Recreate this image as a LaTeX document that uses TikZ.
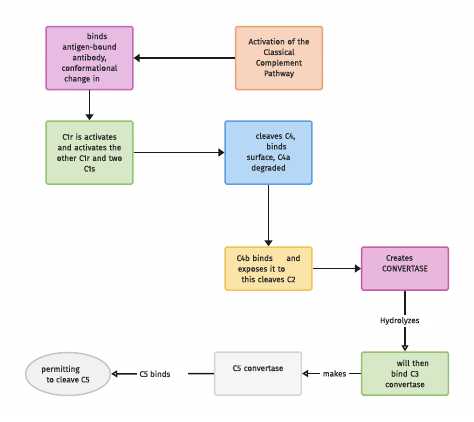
\documentclass[tikz,border=0pt]{standalone}
\usepackage{fontspec}
\setmainfont{Fira Sans}[FakeBold=0.6]
\newfontfamily\medfont{Fira Sans}[FakeBold=0.6]
\usetikzlibrary{arrows.meta,shapes.geometric}
\definecolor{pinkF}{HTML}{E8BCE2}\definecolor{pinkD}{HTML}{C866B4}
\definecolor{oraF}{HTML}{F8D4BE}\definecolor{oraD}{HTML}{E8A070}
\definecolor{grnF}{HTML}{D6E8C6}\definecolor{grnD}{HTML}{92C372}
\definecolor{bluF}{HTML}{B6D8F6}\definecolor{bluD}{HTML}{5C9FE2}
\definecolor{yelF}{HTML}{FBE4A8}\definecolor{yelD}{HTML}{F0C455}
\definecolor{pk2F}{HTML}{E9B6DD}\definecolor{pk2D}{HTML}{C95AA2}
\definecolor{gryF}{HTML}{F5F5F5}\definecolor{gryD}{HTML}{D4D4D4}
\definecolor{ellF}{HTML}{F1F1F1}\definecolor{ellD}{HTML}{C6C6C6}
\definecolor{lineC}{HTML}{1A1A1A}
\definecolor{txtC}{HTML}{2A2A2A}
\tikzset{
  box/.style={draw,line width=1.5pt,rounded corners=1.5pt,minimum width=85pt,minimum height=63pt,
    text width=80pt,align=center,font=\medfont\fontsize{8}{10.6}\selectfont,text=txtC},
  sbox/.style={box,minimum height=43pt},
  solid arrow/.style={draw=lineC,line width=1.4pt,-{Triangle[length=6pt,width=8pt]}},
  open arrow/.style={draw=lineC,line width=1.4pt,-{Triangle[open,length=6pt,width=7pt,fill=white]}},
  elabel/.style={fill=white,inner sep=2.5pt,font=\medfont\fontsize{8}{10}\selectfont,text=txtC},
}
\begin{document}
\begin{tikzpicture}[x=1pt,y=-1pt]
\useasboundingbox (0,0) rectangle (474,421);
\fill[white] (0,0) rectangle (474,421);
\foreach \i in {0,...,47}{\foreach \j in {0,...,42}{\fill[black!12] (\i*10+4,\j*10+4) circle (0.45pt);}}
\node[box,fill=pinkF,draw=pinkD] (a) at (89.5,58) {\phantom{C1q} binds\\antigen-bound\\antibody,\\conformational\\change in \phantom{C1q}};
\node[box,fill=oraF,draw=oraD] (b) at (279,58) {Activation of the\\Classical\\Complement\\Pathway};
\node[box,fill=grnF,draw=grnD] (c) at (89.5,152.5) {C1r is activates\\and activates the\\other C1r and two\\C1s};
\node[box,fill=bluF,draw=bluD] (d) at (268.5,152.5) {\phantom{C1s} cleaves C4,\\\phantom{C4b} binds\\surface, C4a\\degraded};
\node[sbox,fill=yelF,draw=yelD] (e) at (268.5,268.5) {C4b binds \phantom{C2} and\\exposes it to \phantom{C1s}\\this cleaves C2};
\node[sbox,fill=pk2F,draw=pk2D] (f) at (405,268.5) {Creates \phantom{C3}\\CONVERTASE\\\phantom{C4b2a}};
\node[sbox,fill=grnF,draw=grnD] (g) at (405,373.5) {\phantom{C3b} will then\\bind C3\\convertase};
\node[sbox,fill=gryF,draw=gryD] (h) at (258,373.5) {C5 convertase\\\phantom{C4b2a3b}};
\node[ellipse,draw=ellD,fill=ellF,line width=1.5pt,minimum width=85pt,minimum height=43pt,inner sep=0pt,
  align=center,font=\medfont\fontsize{8}{10.6}\selectfont,text=txtC] (i) at (68,374) {permitting \phantom{C4b}\\to cleave C5};
\draw[solid arrow] (b) -- (a);
\draw[solid arrow] (a) -- (c);
\draw[solid arrow] (c) -- (d);
\draw[solid arrow] (d) -- (e);
\draw[solid arrow] (e) -- (f);
\draw[open arrow] (f) -- node[elabel,pos=0.5] {Hydrolyzes \phantom{C3}} (g);
\draw[open arrow] (g) -- node[elabel,pos=0.45] {makes} (h);
\draw[open arrow] (h) -- node[elabel,pos=0.5] {C5 binds \phantom{C3b}} (i);
\end{tikzpicture}
\end{document}
